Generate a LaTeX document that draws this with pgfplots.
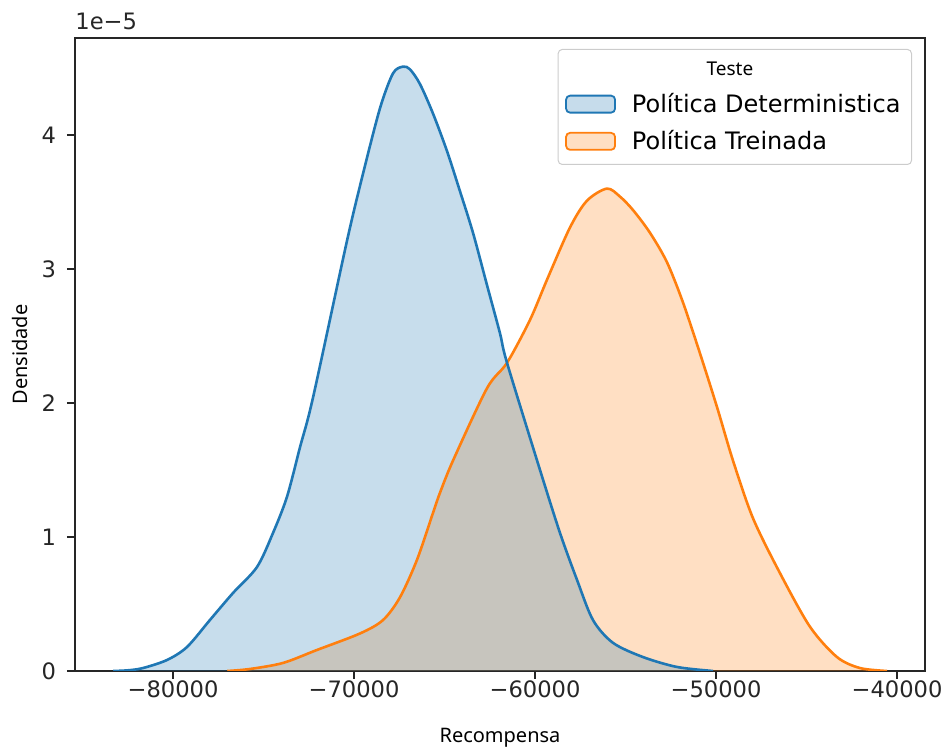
\documentclass[border=0pt]{standalone}
\usepackage{pgfplots}
\pgfplotsset{compat=1.18}
\usepackage{pgfplotstable}
\usepackage{fontspec}
\setmainfont{DejaVu Sans}
\newfontfamily\labfont{Noto Sans}
\definecolor{c0}{RGB}{31,119,180}
\definecolor{c1}{RGB}{255,127,14}
\pgfplotstableread{
x y
-83300 0
-82500 0.005
-81657 0.022
-80331 0.082
-79226 0.179
-77956 0.381
-76685 0.582
-75359 0.776
-74475 1.03
-73702 1.30
-72983 1.67
-72265 2.04
-70387 3.21
-69503 3.71
-68563 4.20
-67845 4.46
-67293 4.51
-66906 4.49
-66354 4.38
-65635 4.16
-64862 3.88
-64144 3.58
-63425 3.27
-62652 2.88
-61934 2.52
-61546 2.30
-59723 1.50
-58618 1.03
-57679 0.68
-56795 0.38
-55690 0.21
-54033 0.104
-52154 0.03
-50165 0
}\blue
\pgfplotstableread{
x y
-77000 0
-75746 0.015
-73923 0.06
-72044 0.157
-69668 0.28
-68398 0.38
-67459 0.55
-66519 0.83
-65635 1.18
-65249 1.33
-64530 1.57
-62652 2.11
-61546 2.30
-60276 2.62
-59336 2.92
-58066 3.31
-57126 3.51
-56022 3.60
-55304 3.54
-54586 3.44
-53646 3.27
-52707 3.05
-51823 2.75
-50884 2.37
-49945 1.97
-49061 1.57
-47956 1.14
-46464 0.73
-44807 0.33
-43315 0.104
-42044 0.022
-40552 0
}\orange
\begin{document}
\begin{tikzpicture}
\path[use as bounding box] (-37.5pt,-38pt) rectangle (435.5pt,335.5pt);
\begin{axis}[
  scale only axis,
  width=425pt, height=316.5pt,
  xmin=-85414, xmax=-38453,
  ymin=0, ymax=4.724,
  clip mode=individual,
  scaled x ticks=false, scaled y ticks=false,
  axis line style={line width=0.9pt, black!85},
  tick style={line width=0.9pt, black!85},
  major tick length=4pt,
  tick align=outside,
  xtick={-80000,-70000,-60000,-50000,-40000},
  xticklabels={−80000,−70000,−60000,−50000,−40000},
  ytick={0,1,2,3,4},
  yticklabels={0,1,2,3,4},
  xtick pos=bottom, ytick pos=left,
  ticklabel style={font=\fontsize{11.3}{13}\selectfont, text=black!85},
  xticklabel style={yshift=2.5pt},
  yticklabel style={xshift=-2pt},
  xlabel={\labfont Recompensa},
  ylabel={\labfont Densidade},
  xlabel style={font=\fontsize{10}{12}\selectfont, at={(rel axis cs:0.5,0)}, anchor=center, yshift=-33.5pt},
  ylabel style={font=\fontsize{10}{12}\selectfont, at={(rel axis cs:0,0.5)}, anchor=center, yshift=27.5pt},
  legend image code/.code={\draw[#1] (0pt,-4.25pt) rectangle (24.5pt,4.25pt);},
  legend cell align=left,
  legend style={at={(rel axis cs:1,1)}, anchor=north east, xshift=-6.5pt, yshift=-5.5pt,
    draw=black!20, rounded corners=2pt, line width=0.5pt, fill=white, fill opacity=0.8, text opacity=1,
    font=\fontsize{12}{13}\selectfont, inner xsep=3.5pt, inner ysep=4pt, row sep=3.5pt,
    /tikz/every odd column/.append style={column sep=6pt},
    /tikz/every even column/.append style={column sep=0pt}},
]
\addplot[draw=none, fill=c1, fill opacity=0.25, smooth, forget plot] table {\orange} \closedcycle;
\addplot[draw=none, fill=c0, fill opacity=0.25, smooth, forget plot] table {\blue} \closedcycle;
\addplot[c1, line width=1.3pt, smooth, forget plot] table {\orange};
\addplot[c0, line width=1.3pt, smooth, forget plot] table {\blue};
\addlegendimage{empty legend}
\addlegendentry{\hspace*{49pt}\makebox[0pt][c]{\labfont\fontsize{9.5}{11}\selectfont Teste}}
\addlegendimage{draw=c0, line width=0.9pt, fill=c0, fill opacity=0.25}
\addlegendentry{Política Deterministica}
\addlegendimage{draw=c1, line width=0.9pt, fill=c1, fill opacity=0.25}
\addlegendentry{Política Treinada}
\node[anchor=south west, inner sep=0pt, font=\fontsize{11.3}{13}\selectfont, text=black!85] at (rel axis cs:0,1) [yshift=4pt] {1e−5};
\end{axis}
\end{tikzpicture}
\end{document}
